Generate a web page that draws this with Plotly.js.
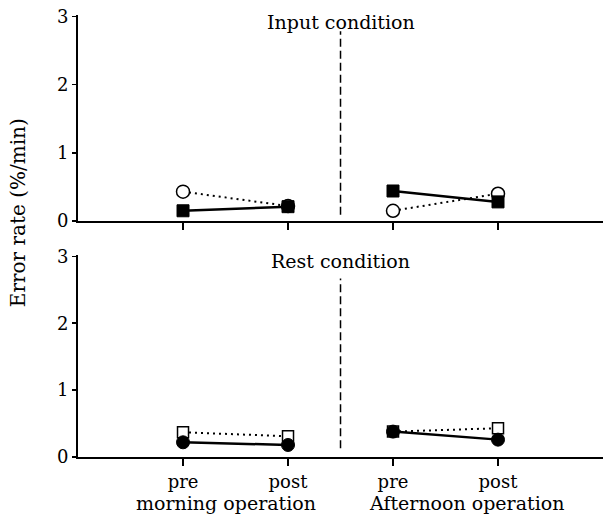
<!DOCTYPE html>
<html>
<head>
<meta charset="utf-8">
<script src="https://cdn.plot.ly/plotly-3.0.1.min.js"></script>
<style>html,body{margin:0;padding:0;background:#fff;}#chart{width:603px;height:521px;}</style>
</head>
<body>
<div id="chart"></div>
<script>
// x positions: morning pre, morning post, (gap), afternoon pre, afternoon post
const xPositions = [1, 2, null, 3, 4];
const tickPositions = [1, 2, 3, 4];
const tickLabels = ['pre', 'post', 'pre', 'post'];
const groupLabels = ['morning operation', 'Afternoon operation'];
const panelTitles = ['Input condition', 'Rest condition'];
const yTitle = 'Error rate (%/min)';

// Input condition (top panel)
const inputOpenCircle = [0.43, 0.22, null, 0.15, 0.40];
const inputFilledSquare = [0.15, 0.21, null, 0.44, 0.28];
// Rest condition (bottom panel)
const restOpenSquare = [0.37, 0.31, null, 0.38, 0.43];
const restFilledCircle = [0.22, 0.18, null, 0.38, 0.26];

const FONT = 'DejaVu Serif, Liberation Serif, serif';

function dotted(x, y, xa, ya, sym, size) {
  return {x: x, y: y, xaxis: xa, yaxis: ya, type: 'scatter', mode: 'lines+markers',
    connectgaps: false, cliponaxis: false,
    line: {color: '#000', width: 2, dash: '2px,4px'},
    marker: {symbol: sym, size: size, color: '#fff', line: {color: '#000', width: 1.5}}};
}
function solid(x, y, xa, ya, sym, size) {
  return {x: x, y: y, xaxis: xa, yaxis: ya, type: 'scatter', mode: 'lines+markers',
    connectgaps: false, cliponaxis: false,
    line: {color: '#000', width: 2.5},
    marker: {symbol: sym, size: size, color: '#000', line: {color: '#000', width: 1}}};
}

const data = [
  dotted(xPositions, inputOpenCircle, 'x', 'y', 'circle', 13),
  solid(xPositions, inputFilledSquare, 'x', 'y', 'square', 12),
  dotted(xPositions, restOpenSquare, 'x2', 'y2', 'square', 11),
  solid(xPositions, restFilledCircle, 'x2', 'y2', 'circle', 13)
];

const xCommon = {range: [0, 5], domain: [0.1294, 1], showline: true, linewidth: 2, linecolor: '#000',
  showgrid: false, zeroline: false, tickmode: 'array', tickvals: tickPositions, ticktext: tickLabels,
  ticks: 'outside', ticklen: 7, tickwidth: 1.5, tickcolor: '#000',
  tickfont: {family: FONT, size: 18, color: '#000'}};
const yCommon = {range: [0, 3.02], showline: true, linewidth: 2, linecolor: '#000',
  showgrid: false, zeroline: false, tickmode: 'array', tickvals: [0, 1, 2, 3],
  ticks: 'outside', ticklen: 4, tickwidth: 1.5, tickcolor: '#000',
  tickfont: {family: FONT, size: 18, color: '#000'}};

const layout = {
  width: 603, height: 521,
  margin: {l: 0, r: 0, t: 0, b: 0},
  paper_bgcolor: '#fff', plot_bgcolor: '#fff',
  showlegend: false,
  font: {family: FONT, size: 18, color: '#000'},
  xaxis: Object.assign({}, xCommon, {anchor: 'y', showticklabels: false}),
  yaxis: Object.assign({}, yCommon, {anchor: 'x', domain: [0.5758, 0.9712]}),
  xaxis2: Object.assign({}, xCommon, {anchor: 'y2', showticklabels: true}),
  yaxis2: Object.assign({}, yCommon, {anchor: 'x2', domain: [0.1228, 0.5106]}),
  shapes: [
    {type: 'line', xref: 'x', yref: 'y', x0: 2.5, x1: 2.5, y0: 0.09, y1: 2.78,
      line: {color: '#000', width: 1.5, dash: '8px,4px'}},
    {type: 'line', xref: 'x2', yref: 'y2', x0: 2.5, x1: 2.5, y0: 0.13, y1: 2.67,
      line: {color: '#000', width: 1.5, dash: '8px,4px'}}
  ],
  annotations: [
    {text: panelTitles[0], xref: 'x', yref: 'paper', x: 2.5, y: 0.958, showarrow: false,
      xanchor: 'center', yanchor: 'middle', font: {family: FONT, size: 19}},
    {text: panelTitles[1], xref: 'x2', yref: 'paper', x: 2.5, y: 0.5, showarrow: false,
      xanchor: 'center', yanchor: 'middle', font: {family: FONT, size: 19}},
    {text: groupLabels[0], xref: 'x2', yref: 'paper', x: 1.41, y: 0.0345, showarrow: false,
      xanchor: 'center', yanchor: 'middle', font: {family: FONT, size: 19}},
    {text: groupLabels[1], xref: 'x2', yref: 'paper', x: 3.70, y: 0.0345, showarrow: false,
      xanchor: 'center', yanchor: 'middle', font: {family: FONT, size: 19}},
    {text: yTitle, xref: 'paper', yref: 'paper', x: 0.03, y: 0.591, showarrow: false,
      textangle: -90, xanchor: 'center', yanchor: 'middle', font: {family: FONT, size: 20}}
  ]
};

Plotly.newPlot('chart', data, layout, {staticPlot: true, displayModeBar: false});
</script>
</body>
</html>
